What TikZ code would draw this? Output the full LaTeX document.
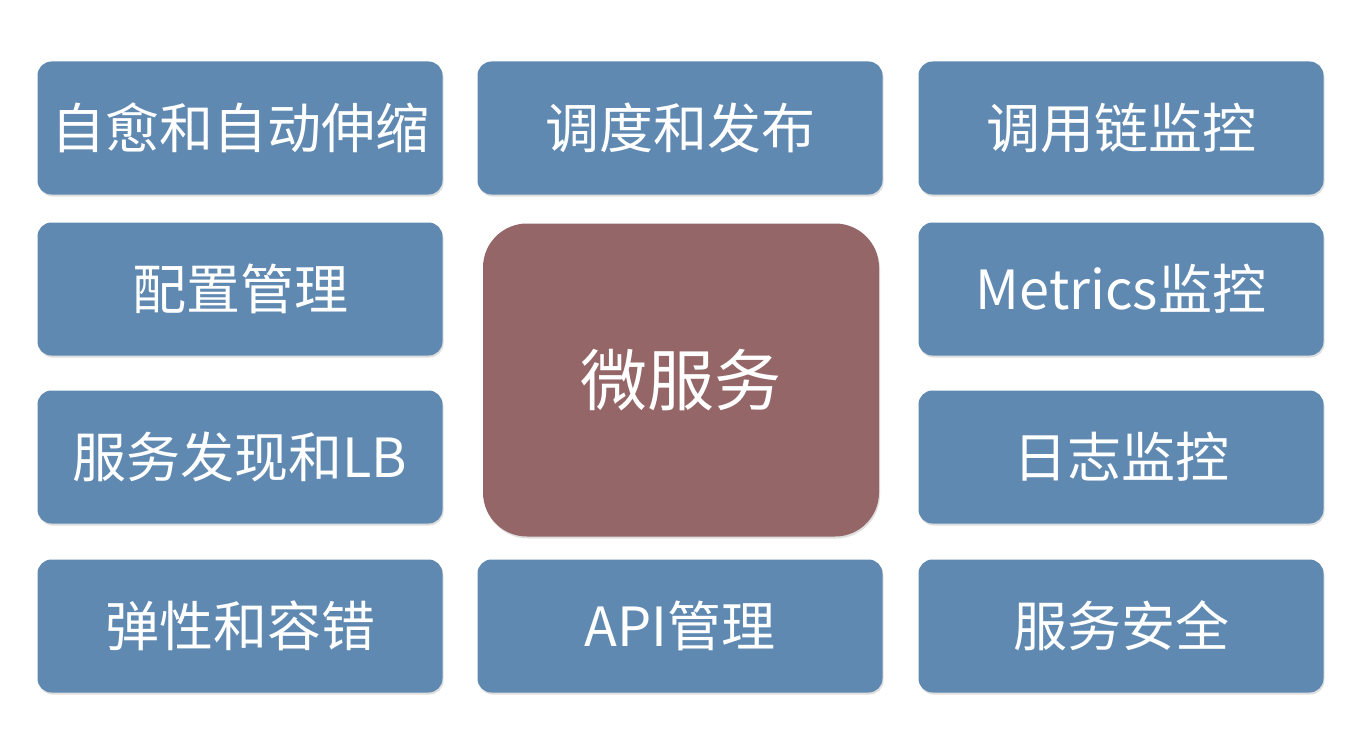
\documentclass[tikz,border=0pt]{standalone}
\usepackage{fontspec}
\usetikzlibrary{shadows}
\setmainfont{Noto Sans CJK SC}
\definecolor{boxblue}{HTML}{5F89B1}
\definecolor{boxred}{HTML}{956668}
\definecolor{shadowgray}{HTML}{D8D8D8}
\begin{document}
\begin{tikzpicture}[x=1pt,y=-1pt,
  cell/.style={fill=boxblue, rounded corners=14pt, text=white, inner sep=0pt,
     minimum width=405pt, minimum height=133pt, font=\fontsize{54}{58}\selectfont,
     drop shadow={shadow xshift=1pt, shadow yshift=-2pt, fill=shadowgray, opacity=0.8}},
  core/.style={fill=boxred, rounded corners=44pt, text=white, inner sep=0pt,
     minimum width=396pt, minimum height=313pt, font=\fontsize{67}{72}\selectfont,
     drop shadow={shadow xshift=1pt, shadow yshift=-2pt, fill=shadowgray, opacity=0.8}}]
\useasboundingbox (0,0) rectangle (1364,752);
\fill[white] (0,0) rectangle (1364,752);
\node[cell] (a1) at (240,128) {自愈和自动伸缩};
\node[cell] (a2) at (240,289) {配置管理};
\node[cell] (a3) at (240,457) {服务发现和LB};
\node[cell] (a4) at (240,626) {弹性和容错};
\node[cell] (b1) at (680,128) {调度和发布};
\node[core] (c) at (681,380) {微服务};
\node[cell] (b4) at (680,626) {API管理};
\node[cell] (d1) at (1121,128) {调用链监控};
\node[cell] (d2) at (1121,289) {Metrics监控};
\node[cell] (d3) at (1121,457) {日志监控};
\node[cell] (d4) at (1121,626) {服务安全};
\end{tikzpicture}
\end{document}
